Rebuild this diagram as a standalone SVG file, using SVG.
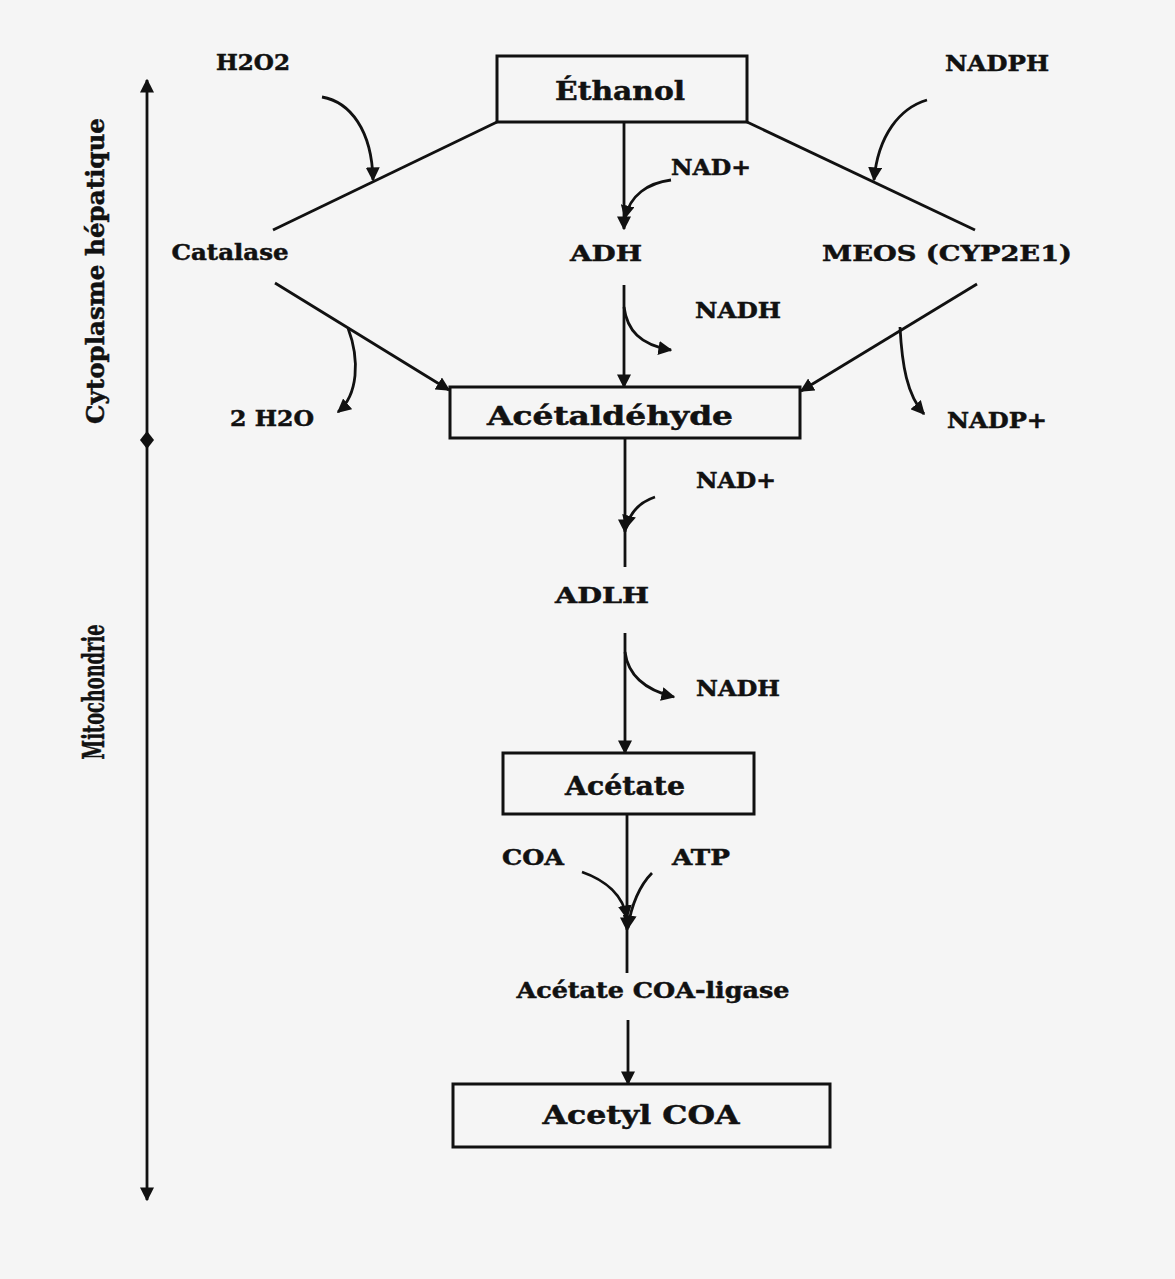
<svg xmlns="http://www.w3.org/2000/svg" width="1175" height="1279" viewBox="0 0 1175 1279">
<style>
.t{font-family:"DejaVu Serif","Liberation Serif",serif;font-weight:bold;fill:#111;stroke:#111;stroke-width:0.5;text-anchor:middle}
.lab{font-size:22px}
.box{fill:none;stroke:#111;stroke-width:3}
.big{font-size:26px}
.ln{fill:none;stroke:#111;stroke-width:2.8}
</style>
<defs>
<marker id="ah" viewBox="0 0 10 10" refX="9" refY="5" markerWidth="5" markerHeight="5" orient="auto" markerUnits="strokeWidth">
<path d="M0,0 L10,5 L0,10 z" fill="#111"/>
</marker>
</defs>
<rect x="0" y="0" width="1175" height="1279" fill="#f5f5f5"/>

<g id="axis">
<line class="ln" x1="147" y1="440" x2="147" y2="80" marker-end="url(#ah)"/>
<line class="ln" x1="147" y1="440" x2="147" y2="1200" marker-end="url(#ah)"/>
<path d="M147,431 L154,440 L147,449 L140,440 z" fill="#111"/>
<text class="t" transform="translate(104,271) rotate(-90)" font-size="24" textLength="306" lengthAdjust="spacingAndGlyphs">Cytoplasme hépatique</text>
<text class="t" transform="translate(104,692) rotate(-90)" font-size="29" textLength="135" lengthAdjust="spacingAndGlyphs">Mitochondrie</text>
</g>

<g id="ethanol">
<rect class="box" x="497" y="56" width="250" height="66"/>
<text class="t big" x="620" y="100" textLength="130" lengthAdjust="spacingAndGlyphs">Éthanol</text>
</g>
<g id="acetaldehyde">
<rect class="box" x="450" y="387" width="350" height="51"/>
<text class="t big" x="610" y="425" textLength="246" lengthAdjust="spacingAndGlyphs">Acétaldéhyde</text>
</g>
<g id="acetate">
<rect class="box" x="503" y="753" width="251" height="61"/>
<text class="t big" x="625" y="795" textLength="120" lengthAdjust="spacingAndGlyphs">Acétate</text>
</g>
<g id="acetylcoa">
<rect class="box" x="453" y="1084" width="377" height="63"/>
<text class="t big" x="641" y="1124" textLength="197" lengthAdjust="spacingAndGlyphs">Acetyl COA</text>
</g>

<g id="h2o2"><text class="t lab" x="253" y="70" textLength="74" lengthAdjust="spacingAndGlyphs">H2O2</text></g>
<g id="nadph"><text class="t lab" x="997" y="71" textLength="104" lengthAdjust="spacingAndGlyphs">NADPH</text></g>
<g id="nadplus1"><text class="t lab" x="711" y="175" textLength="80" lengthAdjust="spacingAndGlyphs">NAD+</text></g>
<g id="catalase"><text class="t lab" x="230" y="260" textLength="117" lengthAdjust="spacingAndGlyphs">Catalase</text></g>
<g id="adh"><text class="t lab" x="606" y="261" textLength="72" lengthAdjust="spacingAndGlyphs">ADH</text></g>
<g id="meos"><text class="t lab" x="947" y="261" textLength="250" lengthAdjust="spacingAndGlyphs">MEOS (CYP2E1)</text></g>
<g id="nadh1"><text class="t lab" x="738" y="318" textLength="86" lengthAdjust="spacingAndGlyphs">NADH</text></g>
<g id="h2o"><text class="t lab" x="272" y="426" textLength="84" lengthAdjust="spacingAndGlyphs">2 H2O</text></g>
<g id="nadpplus"><text class="t lab" x="997" y="428" textLength="100" lengthAdjust="spacingAndGlyphs">NADP+</text></g>
<g id="nadplus2"><text class="t lab" x="736" y="488" textLength="80" lengthAdjust="spacingAndGlyphs">NAD+</text></g>
<g id="adlh"><text class="t lab" x="602" y="603" textLength="94" lengthAdjust="spacingAndGlyphs">ADLH</text></g>
<g id="nadh2"><text class="t lab" x="738" y="696" textLength="84" lengthAdjust="spacingAndGlyphs">NADH</text></g>
<g id="coa"><text class="t lab" x="533" y="865" textLength="62" lengthAdjust="spacingAndGlyphs">COA</text></g>
<g id="atp"><text class="t lab" x="701" y="865" textLength="58" lengthAdjust="spacingAndGlyphs">ATP</text></g>
<g id="ligase"><text class="t lab" x="653" y="998" textLength="273" lengthAdjust="spacingAndGlyphs">Acétate COA-ligase</text></g>

<g id="connectors">
<line class="ln" x1="624" y1="122" x2="624" y2="229" marker-end="url(#ah)"/>
<line class="ln" x1="624" y1="285" x2="624" y2="387" marker-end="url(#ah)"/>
<line class="ln" x1="625" y1="438" x2="625" y2="532" marker-end="url(#ah)"/>
<line class="ln" x1="625" y1="528" x2="625" y2="567"/>
<line class="ln" x1="625" y1="633" x2="625" y2="753" marker-end="url(#ah)"/>
<line class="ln" x1="627" y1="814" x2="627" y2="930" marker-end="url(#ah)"/>
<line class="ln" x1="627" y1="925" x2="627" y2="973"/>
<line class="ln" x1="628" y1="1020" x2="628" y2="1084" marker-end="url(#ah)"/>
<line class="ln" x1="497" y1="122" x2="273" y2="230"/>
<line class="ln" x1="275" y1="283" x2="449" y2="390" marker-end="url(#ah)"/>
<path class="ln" d="M322,97 C350,102 372,130 373,180" marker-end="url(#ah)"/>
<path class="ln" d="M348,328 C360,360 358,395 338,412" marker-end="url(#ah)"/>
<line class="ln" x1="747" y1="122" x2="975" y2="230"/>
<line class="ln" x1="977" y1="284" x2="801" y2="391" marker-end="url(#ah)"/>
<path class="ln" d="M927,100 C900,108 878,135 874,180" marker-end="url(#ah)"/>
<path class="ln" d="M900,327 C902,365 907,395 924,414" marker-end="url(#ah)"/>
<path class="ln" d="M671,180 C648,183 630,195 625,218" marker-end="url(#ah)"/>
<path class="ln" d="M624,307 C627,330 640,345 671,350" marker-end="url(#ah)"/>
<path class="ln" d="M655,497 C640,502 630,512 626,528" marker-end="url(#ah)"/>
<path class="ln" d="M625,652 C628,675 645,690 674,697" marker-end="url(#ah)"/>
<path class="ln" d="M582,872 C605,880 623,895 627,918" marker-end="url(#ah)"/>
<path class="ln" d="M652,873 C640,885 631,905 628,928" marker-end="url(#ah)"/>
</g>
</svg>
